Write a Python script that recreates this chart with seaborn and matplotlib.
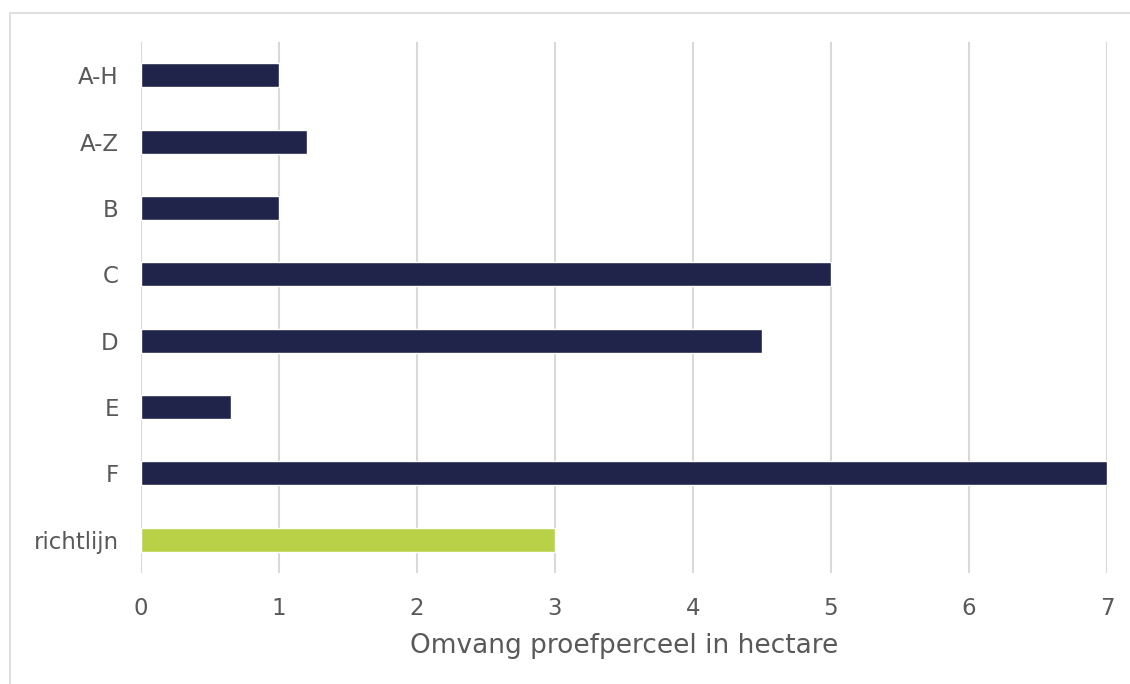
import matplotlib
matplotlib.use("Agg")
import matplotlib.pyplot as plt
import seaborn as sns
import pandas as pd
from matplotlib.patches import Rectangle

categories = ["A-H", "A-Z", "B", "C", "D", "E", "F", "richtlijn"]
values = [1.0, 1.2, 1.0, 5.0, 4.5, 0.65, 7.0, 3.0]
bar_colors = ["#20234A"] * 7 + ["#B8D146"]
x_ticks = [0, 1, 2, 3, 4, 5, 6, 7]
x_label = "Omvang proefperceel in hectare"

sns.set_theme(style="white")
plt.rcParams["font.family"] = ["DejaVu Sans"]

df = pd.DataFrame({"cat": categories, "val": values})

fig = plt.figure(figsize=(11.3, 6.84), dpi=100)
ax = fig.add_axes([0.1248, 0.1623, 0.8548, 0.7763])

sns.barplot(data=df, x="val", y="cat", hue="cat", palette=bar_colors,
            legend=False, width=0.36, ax=ax, order=categories, saturation=1)

ax.set_xlim(0, 7)
ax.set_ylim(7.5, -0.5)
ax.set_xticks(x_ticks)
ax.xaxis.grid(True, color="#D9D9D9", linewidth=1.5)
ax.set_axisbelow(True)
for s in ax.spines.values():
    s.set_visible(False)
ax.tick_params(axis="both", length=0, labelsize=16.5, labelcolor="#595959")
ax.tick_params(axis="x", pad=17)
ax.tick_params(axis="y", pad=16)
ax.set_ylabel("")
ax.set_xlabel(x_label, fontsize=19, color="#595959", labelpad=10)

fig.patches.append(Rectangle((10 / 1130, -0.1), 1.2, (684 - 13) / 684 + 0.1,
                             transform=fig.transFigure, fill=False,
                             edgecolor="#D9D9D9", linewidth=1.2, zorder=0))

fig.savefig("out.png", dpi=100)
